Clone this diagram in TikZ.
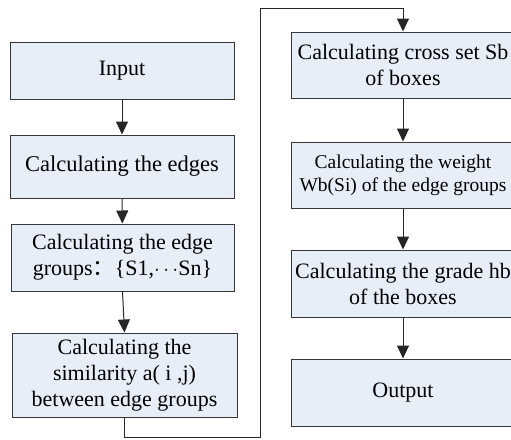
\documentclass[tikz,border=0pt]{standalone}
\usepackage{fontspec}
\setmainfont{Liberation Serif}
\newfontfamily\cjk{Noto Sans CJK SC}
\usetikzlibrary{arrows.meta}
\definecolor{boxfill}{RGB}{232,238,248}
\definecolor{linecol}{RGB}{55,55,55}
\begin{document}
\begin{tikzpicture}[x=1pt,y=-1pt,
  stepbox/.style={draw=linecol, line width=1pt, fill=boxfill, rectangle, align=center,
    inner sep=0pt, font=\fontsize{22}{26}\selectfont},
  conn/.style={draw=black!85, line width=1pt},
  arr/.style={conn, -{Triangle[length=13pt,width=12pt]}}]
\useasboundingbox (0,0) rectangle (511,439);
\clip (0,0) rectangle (511,439);
\node[stepbox, minimum width=224pt, minimum height=57pt] (in) at (122,70.5) {Input};
\node[stepbox, minimum width=224pt, minimum height=63pt, font=\fontsize{22.5}{26}\selectfont] (edges) at (122,166.5) {Calculating the edges};
\node[stepbox, minimum width=223pt, minimum height=67pt] (groups) at (122.5,257.5) {Calculating the edge\\groups{\cjk ：}\{S1,$\cdots$Sn\}};
\node[stepbox, minimum width=225pt, minimum height=84pt] (sim) at (124.5,375) {Calculating the\\similarity a( i ,j)\\between edge groups};
\node[stepbox, minimum width=224pt, minimum height=66pt] (cross) at (403,65) {Calculating cross set Sb\\of boxes};
\node[stepbox, minimum width=224pt, minimum height=66pt, font=\fontsize{19.5}{23}\selectfont] (weight) at (403,175) {Calculating the weight\\Wb(Si) of the edge groups};
\node[stepbox, minimum width=224pt, minimum height=67pt] (grade) at (403,283.5) {Calculating the grade hb\\of the boxes};
\node[stepbox, minimum width=224pt, minimum height=67pt] (out) at (403,392.5) {Output};
\draw[arr] (in) -- (edges);
\draw[arr] (edges) -- (groups);
\draw[arr] (groups.south) -- (sim.north);
\coordinate (b1) at (124.5,437);
\coordinate (b2) at (260,437);
\coordinate (t1) at (260,8);
\coordinate (t2) at (403,8);
\draw[arr] (sim.south) -- (b1) -- (b2) -- (t1) -- (t2) -- (cross.north);
\draw[arr] (cross) -- (weight);
\draw[arr] (weight) -- (grade);
\draw[arr] (grade) -- (out);
\end{tikzpicture}
\end{document}
